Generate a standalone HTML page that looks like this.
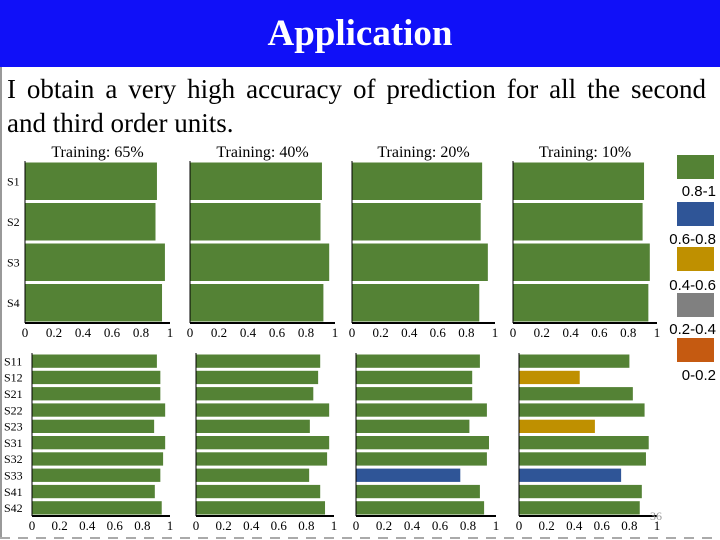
<!DOCTYPE html>
<html><head><meta charset="utf-8">
<style>
body{margin:0;width:720px;height:540px;overflow:hidden;background:#fff;font-family:"Liberation Serif",serif;position:relative}
#hdr{position:absolute;left:0;top:0;width:720px;height:67px;background:#1010f8;color:#fff;font-weight:bold;font-size:37px;text-align:center;line-height:67px}
#txt{position:absolute;left:7px;top:72px;width:699px;font-size:27px;line-height:34px}
#txt div{white-space:nowrap}
#l1{text-align:justify;text-align-last:justify;white-space:normal!important}
#frame{position:absolute;left:0;top:67px;width:718px;height:471px;border-left:2px solid #999;border-right:2px solid #999}
svg{position:absolute;left:0;top:0}
</style></head><body>
<div id="frame"></div>
<div id="hdr">Application</div>
<div id="txt"><div id="l1">I obtain a very high accuracy of prediction for all the second</div><div>and third order units.</div></div>
<svg id="c" width="720" height="540"></svg>
<script>
const titles=["Training: 65%","Training: 40%","Training: 20%","Training: 10%"];
const topCats=["S1","S2","S3","S4"];
const botCats=["S11","S12","S21","S22","S23","S31","S32","S33","S41","S42"];
const topVals=[[0.91,0.90,0.965,0.945],[0.91,0.90,0.96,0.92],[0.91,0.90,0.95,0.89],[0.91,0.90,0.95,0.94]];
const botVals=[
[0.905,0.93,0.93,0.965,0.885,0.965,0.95,0.93,0.89,0.94],
[0.90,0.885,0.85,0.965,0.825,0.965,0.95,0.82,0.90,0.935],
[0.885,0.83,0.83,0.935,0.81,0.95,0.935,0.745,0.885,0.915],
[0.80,0.44,0.825,0.91,0.55,0.94,0.92,0.74,0.89,0.875]];
const ticks=["0","0.2","0.4","0.6","0.8","1"];
const legendLabels=["0.8-1","0.6-0.8","0.4-0.6","0.2-0.4","0-0.2"];
const legendColors=["#548235","#2f5597","#bf9000","#808080","#c55a11"];
const NS="http://www.w3.org/2000/svg",svg=document.getElementById('c');
function mk(t,a,txt){const e=document.createElementNS(NS,t);for(const k in a)e.setAttribute(k,a[k]);if(txt!=null)e.textContent=txt;svg.appendChild(e);return e;}
function col(v){return v>=0.8?legendColors[0]:v>=0.6?legendColors[1]:v>=0.4?legendColors[2]:v>=0.2?legendColors[3]:legendColors[4];}
const topX=[[25,170],[190,335],[352,495],[513,657]];
const botX=[[32,170],[196,334],[356,496],[519,657]];
function panel(p,x0,x1,y0,y1,cats,vals,gap,labX,fs,tickY,title){
  const sx=v=>x0+v*(x1-x0);
  const n=cats.length,pitch=(y1-y0)/n;
  cats.forEach((c,i)=>{
    const r=mk('rect',{x:x0,y:y0+i*pitch+gap/2,width:sx(vals[i])-x0,height:pitch-gap,fill:col(vals[i])});
    
    
    if(p===0){const t=mk('text',{x:labX,y:y0+(i+0.5)*pitch+fs*0.35,'font-size':fs,fill:'#000'},c);
      }
  });
  let a=mk('line',{x1:x0,y1:y0,x2:x0,y2:y1,stroke:'#000','stroke-width':1});
  
  a=mk('line',{x1:x0,y1:y1,x2:x1,y2:y1,stroke:'#000','stroke-width':2});
  
  ticks.forEach((t,i)=>{const e=mk('text',{x:sx(i/5),y:tickY,'font-size':13,'text-anchor':'middle',fill:'#000'},t);
    });
  if(title){const e=mk('text',{x:(x0+x1)/2,y:157,'font-size':16,'text-anchor':'middle',fill:'#000'},title);
    }
}
for(let p=0;p<4;p++){
  panel(p,topX[p][0],topX[p][1],161,323,topCats,topVals[p],3,7,12,337,titles[p]);
  panel(p,botX[p][0],botX[p][1],353,516,botCats,botVals[p],3,4,12,530,null);
}
const ly=[155,202,247,293,338],lt=[196,244,290,334,380];
legendColors.forEach((c,i)=>{
  const r=mk('rect',{x:677,y:ly[i],width:37,height:24,fill:c});
  
  const t=mk('text',{x:716,y:lt[i],'font-size':15,'text-anchor':'end','font-family':'Liberation Sans, sans-serif',fill:'#000'},legendLabels[i]);
  
});
const pn=mk('text',{x:650,y:520,'font-size':12,fill:'#999'},'36');

const dl=mk('line',{x1:0,y1:538,x2:720,y2:538,stroke:'#aaa','stroke-width':2,'stroke-dasharray':'10 8'});

</script>
</body></html>
